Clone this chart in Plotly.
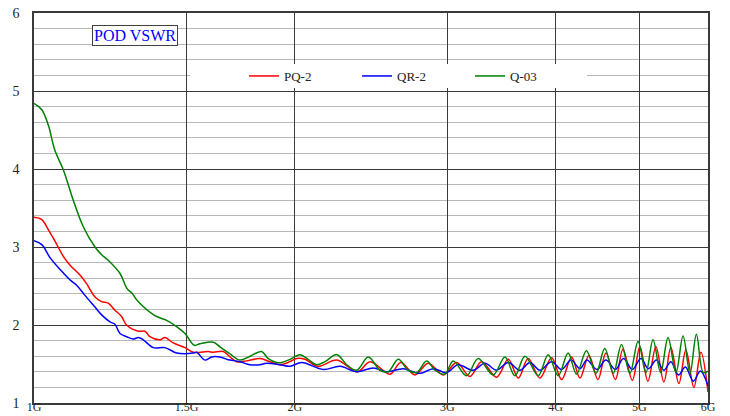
import plotly.graph_objects as go

# ---- data (GHz, VSWR) ----
freq_pq2 = [1.000, 1.021, 1.039, 1.057, 1.081, 1.100, 1.130, 1.150, 1.176, 1.197, 1.218, 1.240, 1.262, 1.279, 1.320,
            1.343, 1.361, 1.398, 1.416, 1.448, 1.494, 1.527, 1.589, 1.610, 1.654, 1.684, 1.714, 1.760, 1.823, 1.872,
            1.923, 1.975, 2.010, 2.055, 2.127, 2.237, 2.362, 2.444, 2.576, 2.651, 2.753, 2.852, 2.968, 3.076, 3.186,
            3.287, 3.420, 3.528, 3.624, 3.720, 3.838, 3.959, 4.066, 4.175, 4.269, 4.372, 4.478, 4.574, 4.691, 4.785,
            4.907, 5.006, 5.114, 5.224, 5.336, 5.436, 5.553, 5.657, 5.779, 5.888, 6.000]
vswr_pq2 = [3.38, 3.35, 3.22, 3.08, 2.88, 2.77, 2.64, 2.53, 2.36, 2.30, 2.28, 2.19, 2.11, 2.00, 1.92,
            1.92, 1.85, 1.81, 1.84, 1.77, 1.71, 1.65, 1.66, 1.65, 1.66, 1.59, 1.53, 1.54, 1.57, 1.53,
            1.49, 1.53, 1.57, 1.56, 1.47, 1.55, 1.40, 1.53, 1.37, 1.52, 1.36, 1.51, 1.36, 1.52, 1.34,
            1.53, 1.33, 1.56, 1.32, 1.57, 1.32, 1.58, 1.30, 1.59, 1.32, 1.61, 1.30, 1.64, 1.30, 1.69,
            1.29, 1.72, 1.28, 1.72, 1.27, 1.71, 1.25, 1.68, 1.20, 1.65, 1.14]

freq_qr2 = [1.000, 1.021, 1.044, 1.072, 1.100, 1.120, 1.145, 1.176, 1.197, 1.224, 1.240, 1.257, 1.279, 1.302, 1.320,
            1.337, 1.373, 1.416, 1.461, 1.494, 1.527, 1.541, 1.575, 1.604, 1.639, 1.669, 1.684, 1.729, 1.775, 1.823,
            1.856, 1.923, 1.975, 2.037, 2.158, 2.256, 2.359, 2.465, 2.554, 2.669, 2.790, 2.890, 2.995, 3.086, 3.215,
            3.316, 3.420, 3.528, 3.640, 3.737, 3.838, 3.959, 4.066, 4.170, 4.270, 4.349, 4.466, 4.574, 4.691, 4.792,
            4.907, 5.020, 5.121, 5.231, 5.336, 5.436, 5.546, 5.650, 5.771, 5.880, 6.000]
vswr_qr2 = [3.08, 3.03, 2.86, 2.71, 2.58, 2.51, 2.38, 2.23, 2.13, 2.04, 2.01, 1.89, 1.85, 1.82, 1.84,
            1.81, 1.71, 1.71, 1.64, 1.63, 1.64, 1.65, 1.55, 1.59, 1.59, 1.56, 1.55, 1.53, 1.49, 1.49,
            1.51, 1.49, 1.47, 1.52, 1.43, 1.47, 1.40, 1.45, 1.40, 1.44, 1.38, 1.44, 1.39, 1.49, 1.42,
            1.51, 1.42, 1.52, 1.42, 1.52, 1.42, 1.53, 1.43, 1.55, 1.44, 1.55, 1.43, 1.55, 1.43, 1.57,
            1.43, 1.57, 1.44, 1.55, 1.42, 1.53, 1.36, 1.46, 1.28, 1.41, 1.22]

freq_q03 = [1.000, 1.021, 1.039, 1.057, 1.081, 1.110, 1.140, 1.176, 1.197, 1.218, 1.257, 1.280, 1.297, 1.319, 1.379,
            1.423, 1.461, 1.494, 1.531, 1.555, 1.611, 1.639, 1.684, 1.729, 1.776, 1.831, 1.864, 1.906, 1.932, 1.975,
            2.028, 2.073, 2.120, 2.167, 2.237, 2.297, 2.358, 2.432, 2.509, 2.564, 2.634, 2.704, 2.765, 2.840, 2.903,
            2.981, 3.048, 3.158, 3.257, 3.390, 3.497, 3.591, 3.688, 3.821, 3.923, 4.029, 4.137, 4.230, 4.343, 4.455,
            4.560, 4.665, 4.767, 4.875, 4.982, 5.087, 5.184, 5.290, 5.395, 5.510, 5.615, 5.720, 5.818, 5.925, 6.000]
vswr_q03 = [4.84, 4.76, 4.56, 4.24, 3.99, 3.60, 3.26, 3.00, 2.90, 2.83, 2.66, 2.47, 2.41, 2.30, 2.12,
            2.06, 1.98, 1.89, 1.74, 1.76, 1.78, 1.72, 1.63, 1.55, 1.60, 1.66, 1.57, 1.52, 1.52, 1.56,
            1.62, 1.56, 1.49, 1.53, 1.62, 1.49, 1.42, 1.59, 1.42, 1.40, 1.56, 1.42, 1.39, 1.54, 1.42,
            1.37, 1.54, 1.35, 1.57, 1.36, 1.59, 1.35, 1.60, 1.35, 1.62, 1.35, 1.64, 1.37, 1.67, 1.38,
            1.70, 1.38, 1.75, 1.38, 1.79, 1.39, 1.81, 1.39, 1.84, 1.39, 1.86, 1.38, 1.88, 1.39, 1.41]

x_tickvals = [1, 1.5, 2, 3, 4, 5, 6]
x_ticktext = ["1G", "1.5G", "2G", "3G", "4G", "5G", "6G"]
y_tickvals = [1, 2, 3, 4, 5, 6]

series = [
    ("PQ-2", freq_pq2, vswr_pq2, "#ff0000"),
    ("QR-2", freq_qr2, vswr_qr2, "#0000ff"),
    ("Q-03", freq_q03, vswr_q03, "#008000"),
]

SERIF = "Liberation Serif, Times New Roman, serif"

fig = go.Figure()
for name, fx, fy, col in series:
    fig.add_trace(go.Scatter(x=fx, y=fy, name=name, mode="lines",
                             line=dict(color=col, width=1.5, shape="spline", smoothing=1.0)))

W, H = 730, 416
PL, PR, PT, PB = 34, 708, 13, 403
L, T, R, B = PL, PT, W - PR, H - PB
pw, ph = PR - PL, PB - PT


def px(xp):
    return (xp - PL) / pw


def py(yp):
    return (PB - yp) / ph


fig.update_layout(
    width=W, height=H,
    margin=dict(l=L, r=R, t=T, b=B, pad=0),
    paper_bgcolor="white", plot_bgcolor="white",
    font=dict(family=SERIF, size=14, color="#222222"),
    showlegend=True,
    legend=dict(orientation="h", x=px(244), y=py(76), xanchor="left", yanchor="middle",
                bgcolor="rgba(0,0,0,0)", borderwidth=0,
                entrywidth=68, entrywidthmode="pixels",
                font=dict(family=SERIF, size=13, color="#222222"),
                itemwidth=30, tracegroupgap=0),
    xaxis=dict(type="log", range=[0, 0.778151], tickvals=x_tickvals, ticktext=x_ticktext,
               showgrid=True, gridcolor="#3a3a3a", gridwidth=1,
               showline=True, linecolor="#3a3a3a", linewidth=1.5, mirror=True,
               ticks="", zeroline=False, automargin=False, ticklabelstandoff=-8,
               ticklabeloverflow="allow",
               tickfont=dict(family=SERIF, size=12, color="#222222")),
    yaxis=dict(range=[1, 6], tickvals=y_tickvals,
               showgrid=True, gridcolor="#3a3a3a", gridwidth=1,
               minor=dict(dtick=0.2, showgrid=True, gridcolor="#b8b8b8", gridwidth=1, tick0=1),
               showline=True, linecolor="#3a3a3a", linewidth=1.5, mirror=True,
               ticks="", zeroline=False, automargin=False, ticklabelstandoff=10,
               ticklabeloverflow="allow",
               tickfont=dict(family=SERIF, size=14, color="#222222")),
)

# white legend backdrop
fig.add_shape(type="rect", xref="paper", yref="paper",
              x0=px(190), x1=px(587), y0=py(88), y1=py(64),
              fillcolor="white", line=dict(width=0), layer="above")

# title box
fig.add_annotation(text="POD VSWR", xref="paper", yref="paper",
                   x=px(134.5), y=py(35.5), xanchor="center", yanchor="middle",
                   showarrow=False, font=dict(family=SERIF, size=16, color="#0000ff"),
                   bgcolor="white", bordercolor="#404040", borderwidth=1, borderpad=1)

fig.write_html("out.html", config={"displayModeBar": False},
               post_script="document.body.style.margin='0px';")
